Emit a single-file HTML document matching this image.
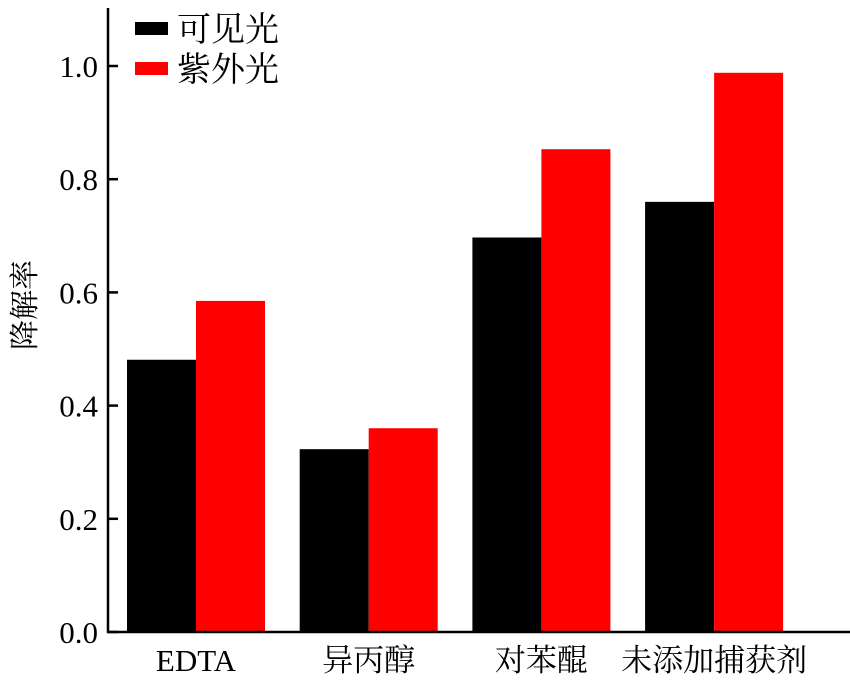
<!DOCTYPE html>
<html><head><meta charset="utf-8"><style>
body{margin:0;background:#fff}
svg text{font-family:"Liberation Serif","Noto Serif CJK SC",serif;fill:#000}
</style></head><body>
<svg width="850" height="685" viewBox="0 0 850 685">
<g id="plot"></g>
</svg>
<script>
const categories=["EDTA","异丙醇","对苯醌","未添加捕获剂"];
const visibleVals=[0.481,0.323,0.697,0.760];
const uvVals=[0.585,0.360,0.853,0.988];
const yTicks=[0.0,0.2,0.4,0.6,0.8,1.0];
const seriesNames=["可见光","紫外光"];
const NS="http://www.w3.org/2000/svg";
const g=document.getElementById('plot');
const y0=632,pxPerUnit=566;
function y(v){return y0-v*pxPerUnit;}
function groupX(i){return 127+i*172.7;}
const barW=69;
function mk(t,a){const e=document.createElementNS(NS,t);for(const k in a)e.setAttribute(k,a[k]);g.appendChild(e);return e;}
const series=[[visibleVals,"#000"],[uvVals,"#ff0000"]];
series.forEach((s,si)=>{s[0].forEach((v,i)=>{
 const r=mk('rect',{x:groupX(i)+si*barW,y:y(v),width:barW,height:y0-y(v),fill:s[1]});
 
 
});});
const ya=mk('line',{x1:108,y1:8,x2:108,y2:y0+1,stroke:'#000','stroke-width':2.5});


const xa=mk('line',{x1:107,y1:y0,x2:850,y2:y0,stroke:'#000','stroke-width':2.5});


yTicks.forEach(v=>{
 const t=mk('line',{x1:108,y1:y(v),x2:118,y2:y(v),stroke:'#000','stroke-width':2.5});
 
 
 const l=mk('text',{x:98,y:y(v)+11,'text-anchor':'end','font-size':31});
 l.textContent=v.toFixed(1);
 
 
});
categories.forEach((c,i)=>{
 const l=mk('text',{x:groupX(i)+barW,y:671,'text-anchor':'middle','font-size':31});
 l.textContent=c;
 
 
});
const yt=mk('text',{x:0,y:0,'text-anchor':'middle','font-size':30,transform:'translate(35,305) rotate(-90)'});
yt.textContent="降解率";


seriesNames.forEach((n,i)=>{
 const r=mk('rect',{x:135,y:22+i*40,width:33,height:13,fill:series[i][1]});
 
 
 const t=mk('text',{x:177,y:41+i*40,'font-size':34});
 t.textContent=n;
 
 
});
</script>
</body></html>
